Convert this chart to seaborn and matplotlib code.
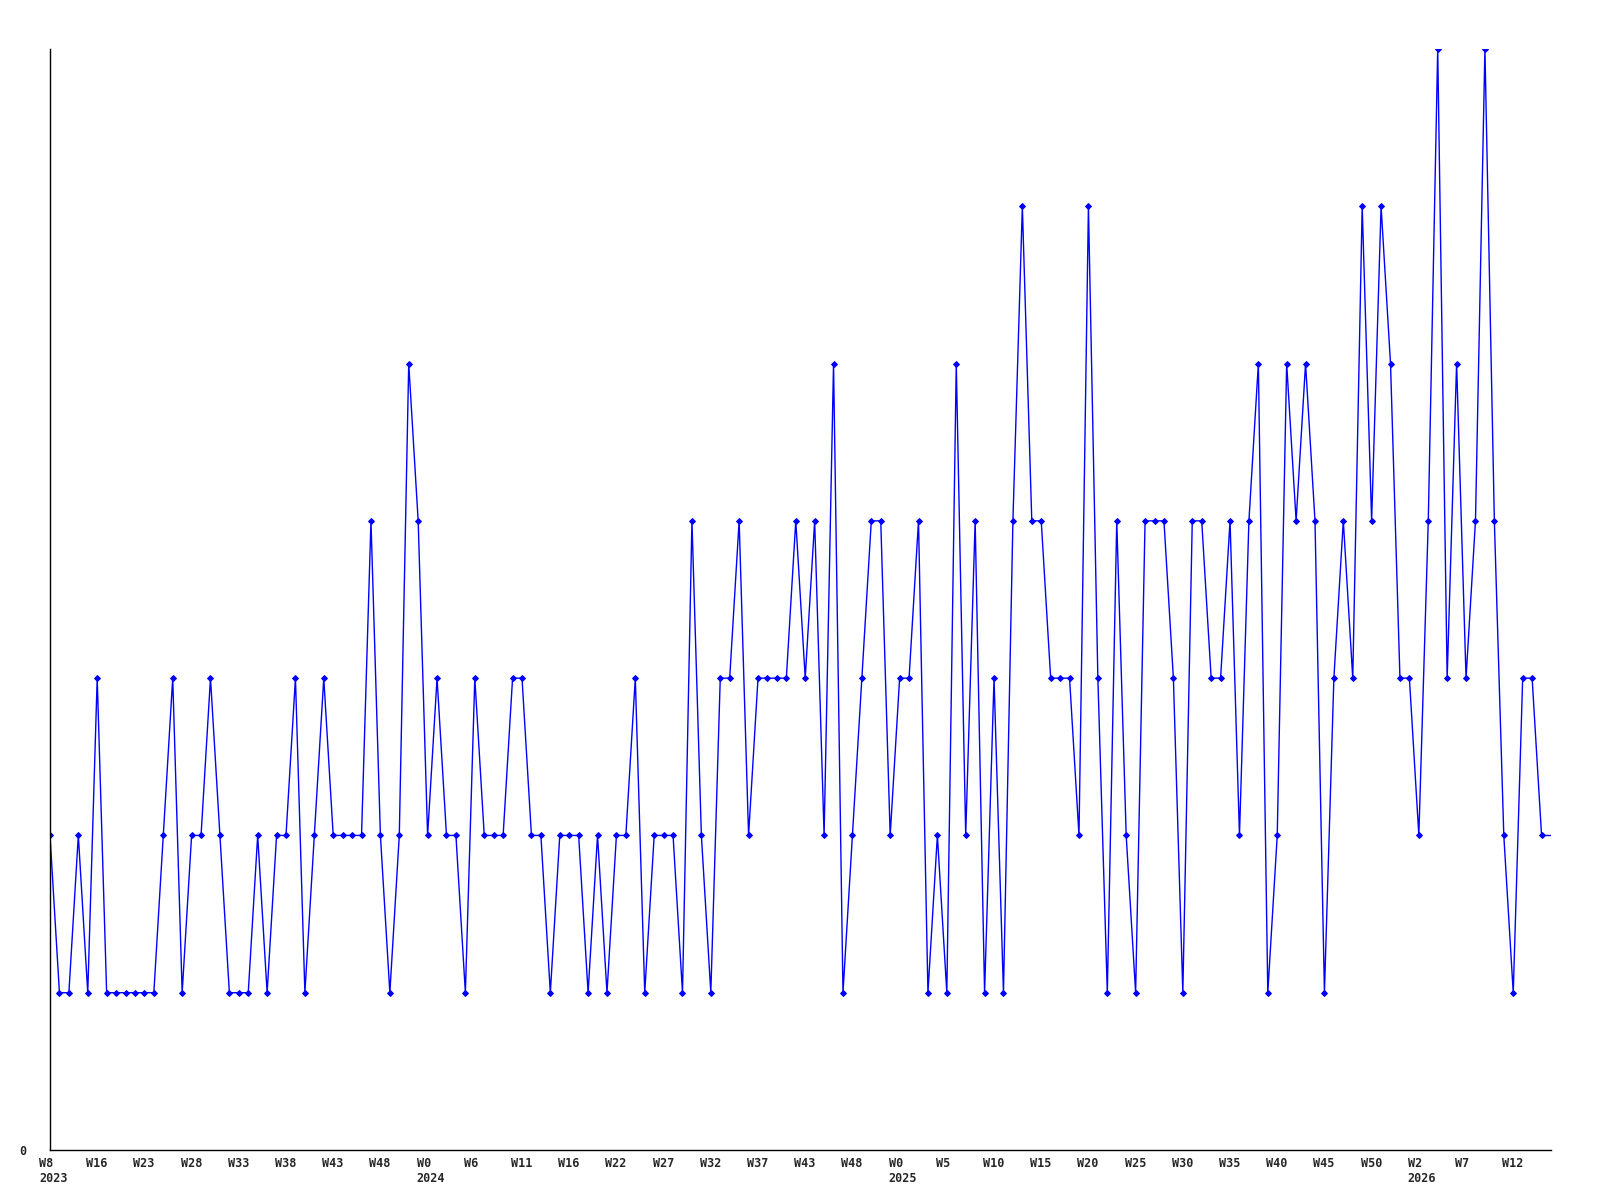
import seaborn as sns
import matplotlib
matplotlib.use("Agg")
import matplotlib.pyplot as plt
import matplotlib.transforms as mtransforms
import pandas as pd

# weekly counts, one per point
values = [2, 1, 1, 2, 1, 3, 1, 1, 1, 1,
          1, 1, 2, 3, 1, 2, 2, 3, 2, 1,
          1, 1, 2, 1, 2, 2, 3, 1, 2, 3,
          2, 2, 2, 2, 4, 2, 1, 2, 5, 4,
          2, 3, 2, 2, 1, 3, 2, 2, 2, 3,
          3, 2, 2, 1, 2, 2, 2, 1, 2, 1,
          2, 2, 3, 1, 2, 2, 2, 1, 4, 2,
          1, 3, 3, 4, 2, 3, 3, 3, 3, 4,
          3, 4, 2, 5, 1, 2, 3, 4, 4, 2,
          3, 3, 4, 1, 2, 1, 5, 2, 4, 1,
          3, 1, 4, 6, 4, 4, 3, 3, 3, 2,
          6, 3, 1, 4, 2, 1, 4, 4, 4, 3,
          1, 4, 4, 3, 3, 4, 2, 4, 5, 1,
          2, 5, 4, 5, 4, 1, 3, 4, 3, 6,
          4, 6, 5, 3, 3, 2, 4, 7, 3, 5,
          3, 4, 7, 4, 2, 1, 3, 3, 2]

# one label every 5 points
week_labels = ["W8", "W16", "W23", "W28", "W33", "W38", "W43", "W48",
               "W0", "W6", "W11", "W16", "W22", "W27", "W32", "W37", "W43", "W48",
               "W0", "W5", "W10", "W15", "W20", "W25", "W30", "W35", "W40", "W45", "W50",
               "W2", "W7", "W12"]
year_labels = {0: "2023", 8: "2024", 18: "2025", 29: "2026"}

df = pd.DataFrame({"idx": range(len(values)), "value": values})

sns.set_style("white")
plt.rcParams['font.family'] = ['DejaVu Sans Mono']
plt.rcParams['font.weight'] = 'bold'

fig = plt.figure(figsize=(16, 12), dpi=100)
ax = fig.add_axes([50 / 1600, 1 - 1150 / 1200, 1501 / 1600, 1101 / 1200])

sns.lineplot(data=df, x="idx", y="value", ax=ax, color="#0000ff", linewidth=1,
             marker="D", markersize=3, markeredgecolor="#0000ff")
# last value runs on to the right edge
n = len(values)
ax.plot([n - 1, n], [values[-1], values[-1]], color="#0000ff", linewidth=1)

ax.set_xlim(0, n)
ax.set_ylim(0, 7)

ticks = list(range(0, 5 * len(week_labels), 5))
labels = []
for k, w in enumerate(week_labels):
    labels.append(w + "\n" + year_labels[k] if k in year_labels else w)
ax.set_xticks(ticks)
ax.set_xticklabels(labels, ha="left", va="top", fontsize=8.5,
                   fontweight="bold", linespacing=1.2)

ax.set_yticks([0])
ax.set_yticklabels(["0"], fontsize=8.5, fontweight="bold")
ax.tick_params(axis="both", length=0)
ax.tick_params(axis="x", pad=5)
ax.tick_params(axis="y", pad=17)
ax.set_xlabel("")
ax.set_ylabel("")

# shift the week labels left of their point
offset = mtransforms.ScaledTranslation(-11 / 100, 0, fig.dpi_scale_trans)
for lab in ax.get_xticklabels():
    lab.set_transform(lab.get_transform() + offset)

for s in ["top", "right"]:
    ax.spines[s].set_visible(False)
for s in ["left", "bottom"]:
    ax.spines[s].set_color("black")
    ax.spines[s].set_linewidth(1)

plt.savefig("out.png", dpi=100)
